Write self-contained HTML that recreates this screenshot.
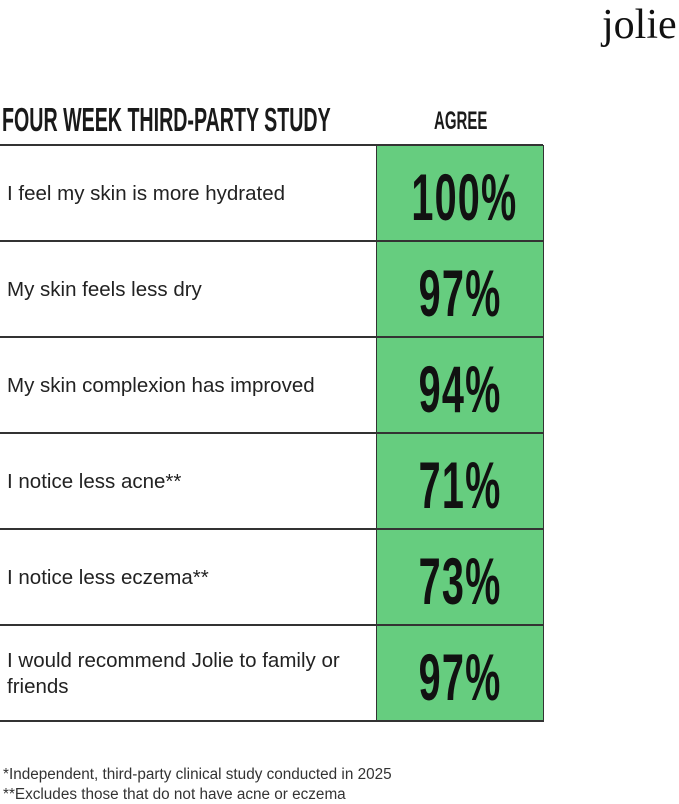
<!DOCTYPE html>
<html><head><style>
body{margin:0;width:679px;height:802px;background:#fff;position:relative;overflow:hidden;font-family:"Liberation Sans",sans-serif;color:#1a1a1a}
.a{position:absolute;white-space:nowrap}
.line{position:absolute;left:0;width:543px;height:2px;background:#333}
.g{position:absolute;left:376px;width:166px;background:#66cd7f;border-left:1.5px solid #333;border-right:1.5px solid #333}
.lbl{position:absolute;left:7px;font-size:20.5px;color:#222;line-height:26px}
.num{position:absolute;left:376px;width:168px;text-align:center;font-size:66px;font-weight:bold;line-height:1;color:#111}
.num span{display:inline-block;transform:scaleX(0.6);letter-spacing:2px}
.cond{display:inline-block;transform-origin:0 0}
</style></head><body>
<div class="a" style="left:602px;top:1px;font-family:'Liberation Serif',serif;font-size:42px;color:#111">jolie</div>
<div class="a" style="left:2px;top:101px;font-size:33px;font-weight:bold"><span class="cond" style="transform:scaleX(0.595)">FOUR WEEK THIRD-PARTY STUDY</span></div>
<div class="a" style="left:434px;top:107px;font-size:25px;font-weight:bold"><span class="cond" style="transform:scaleX(0.6)">AGREE</span></div>

<div class="g" style="top:145px;height:577px"></div>
<div class="line" style="top:144px"></div>
<div class="line" style="top:240px"></div>
<div class="line" style="top:336px"></div>
<div class="line" style="top:432px"></div>
<div class="line" style="top:528px"></div>
<div class="line" style="top:624px"></div>
<div class="line" style="top:720px"></div>

<div class="lbl" style="top:181px">I feel my skin is more hydrated</div>
<div class="lbl" style="top:277px">My skin feels less dry</div>
<div class="lbl" style="top:373px">My skin complexion has improved</div>
<div class="lbl" style="top:469px">I notice less acne**</div>
<div class="lbl" style="top:565px">I notice less eczema**</div>
<div class="lbl" style="top:648px">I would recommend Jolie to family or<br>friends</div>

<div class="num" style="top:164px"><span>100%</span></div>
<div class="num" style="top:260px"><span>97%</span></div>
<div class="num" style="top:356px"><span>94%</span></div>
<div class="num" style="top:452px"><span>71%</span></div>
<div class="num" style="top:548px"><span>73%</span></div>
<div class="num" style="top:644px"><span>97%</span></div>

<div class="a" style="left:3px;top:766px;font-size:15.3px;color:#333">*Independent, third-party clinical study conducted in 2025</div>
<div class="a" style="left:3px;top:786px;font-size:15.3px;color:#333">**Excludes those that do not have acne or eczema</div>
</body></html>
